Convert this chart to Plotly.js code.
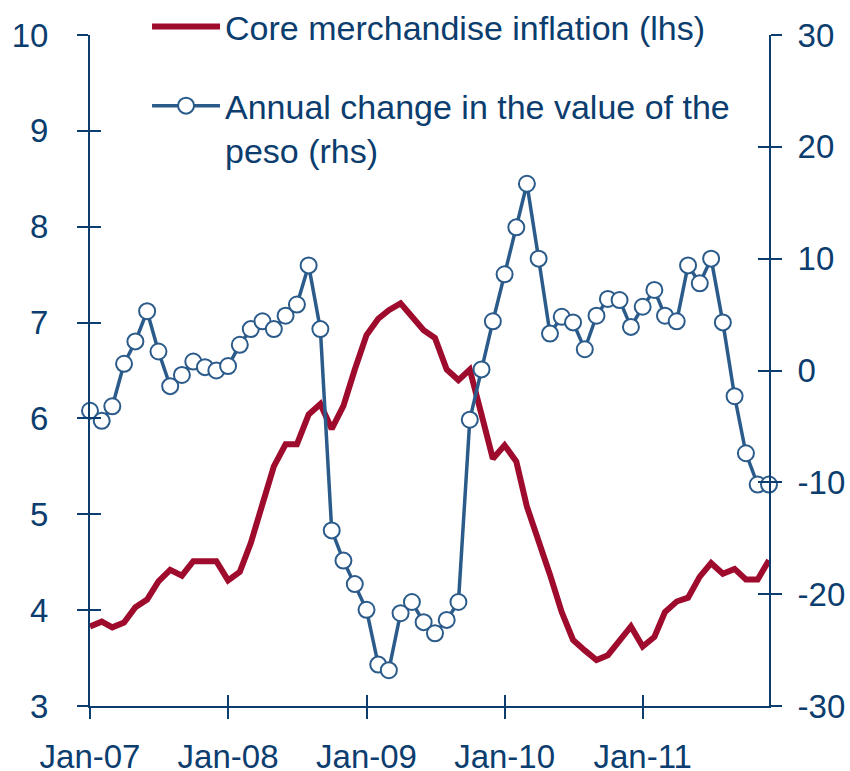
<!DOCTYPE html>
<html>
<head>
<meta charset="utf-8">
<script src="https://cdn.plot.ly/plotly-3.0.1.min.js"></script>
<style>
  html, body { margin: 0; padding: 0; background: #ffffff; }
  #plot { width: 850px; height: 771px; }
</style>
</head>
<body>
<div id="plot"></div>
<script>
// Periodo: ene-2007 a dic-2011, datos mensuales
const years = [2007, 2008, 2009, 2010, 2011];
const months = ['01', '02', '03', '04', '05', '06', '07', '08', '09', '10', '11', '12'];

// Inflacion subyacente de mercancias (eje izquierdo, %)
const coreInflation = [
    3.83, 3.88, 3.82, 3.87, 4.03, 4.11, 4.30, 4.42, 4.36, 4.51, 4.51, 4.51,
    4.31, 4.40, 4.70, 5.10, 5.50, 5.73, 5.73, 6.04, 6.15, 5.89, 6.13, 6.51,
    6.87, 7.04, 7.13, 7.20, 7.06, 6.92, 6.84, 6.51, 6.40, 6.51, 6.04, 5.58,
    5.72, 5.55, 5.08, 4.73, 4.37, 3.98, 3.69, 3.58, 3.48, 3.53, 3.69, 3.83,
    3.62, 3.72, 3.98, 4.09, 4.13, 4.35, 4.49, 4.38, 4.43, 4.32, 4.32, 4.52
];

// Variacion anual del valor del peso (eje derecho, %)
const pesoChange = [
    -3.6, -4.5, -3.2, 0.6, 2.6, 5.3, 1.7, -1.4, -0.4, 0.8, 0.3, 0.0,
    0.4, 2.3, 3.7, 4.4, 3.7, 4.9, 5.9, 9.4, 3.7, -14.3, -17.0, -19.1,
    -21.4, -26.3, -26.8, -21.7, -20.7, -22.5, -23.5, -22.3, -20.7, -4.4, 0.1, 4.4,
    8.6, 12.8, 16.7, 10.0, 3.3, 4.8, 4.3, 1.9, 4.9, 6.4, 6.3, 3.9,
    5.7, 7.2, 4.9, 4.4, 9.4, 7.8, 10.0, 4.3, -2.3, -7.4, -10.2, -10.2
];

// Etiquetas del eje derecho (con guion normal, como en el original)
const rhsTicks = [-30, -20, -10, 0, 10, 20, 30];
const rhsLabels = ['-30', '-20', '-10', '0', '10', '20', '30'];

const dates = [];
years.forEach(y => months.forEach(m => dates.push(`${y}-${m}-01`)));

const NAVY = '#0b3d6e';
const RED = '#9e0b2c';
const BLUE = '#2b5b8a';
const FONT = 'Liberation Sans, Arial, sans-serif';

const xRange = ['2007-01-01', '2011-12-01'];

const traces = [
    {
        type: 'scatter', mode: 'lines',
        name: 'Core merchandise inflation (lhs)',
        x: dates, y: coreInflation,
        line: { color: RED, width: 6 },
        legendgroup: 'a',
        hoverinfo: 'skip'
    },
    {
        type: 'scatter', mode: 'lines+markers',
        name: 'Annual change in the value of the<br>peso (rhs)',
        x: dates, y: pesoChange, yaxis: 'y2',
        line: { color: BLUE, width: 3.5 },
        marker: { size: 16, color: '#ffffff', line: { color: BLUE, width: 2 } },
        cliponaxis: false,
        legendgroup: 'b',
        hoverinfo: 'skip'
    },
    // copias invisibles: solo sirven para que se dibujen las marcas interiores
    {
        type: 'scatter', mode: 'none', x: dates, y: coreInflation,
        xaxis: 'x2', yaxis: 'y3', showlegend: false, hoverinfo: 'skip'
    },
    {
        type: 'scatter', mode: 'none', x: dates, y: pesoChange,
        xaxis: 'x2', yaxis: 'y4', showlegend: false, hoverinfo: 'skip'
    }
];

const baseAxis = {
    showgrid: false, zeroline: false,
    linecolor: NAVY, linewidth: 2,
    tickcolor: NAVY, tickwidth: 2, ticklen: 11,
    tickfont: { family: FONT, size: 33, color: NAVY }
};

const layout = {
    width: 850, height: 771,
    margin: { l: 90, r: 81, t: 35, b: 65, autoexpand: false },
    paper_bgcolor: '#ffffff', plot_bgcolor: '#ffffff',
    font: { family: FONT, color: NAVY },
    showlegend: true,
    legend: {
        x: 0.084, y: 1.0554, xanchor: 'left', yanchor: 'top',
        bgcolor: 'rgba(0,0,0,0)',
        font: { family: FONT, size: 34, color: NAVY },
        itemwidth: 68, tracegroupgap: 32, valign: 'top'
    },
    xaxis: Object.assign({}, baseAxis, {
        type: 'date', range: xRange,
        tick0: '2007-01-01', dtick: 'M12', tickformat: '%b-%y',
        ticks: 'outside', ticklabelstandoff: 9, showline: true
    }),
    xaxis2: Object.assign({}, baseAxis, {
        type: 'date', range: xRange, overlaying: 'x', anchor: 'y',
        tick0: '2007-01-01', dtick: 'M12',
        ticks: 'inside', showticklabels: false, showline: false
    }),
    yaxis: Object.assign({}, baseAxis, {
        range: [3, 10], dtick: 1,
        ticks: 'outside', ticklabelstandoff: 22, showline: true
    }),
    yaxis2: Object.assign({}, baseAxis, {
        range: [-30, 30], tickmode: 'array', tickvals: rhsTicks, ticktext: rhsLabels,
        overlaying: 'y', side: 'right',
        ticks: 'outside', ticklabelstandoff: 9, showline: true
    }),
    yaxis3: Object.assign({}, baseAxis, {
        range: [3, 10], dtick: 1, overlaying: 'y', side: 'left', anchor: 'x2',
        ticks: 'inside', showticklabels: false, showline: false
    }),
    yaxis4: Object.assign({}, baseAxis, {
        range: [-30, 30], tickmode: 'array', tickvals: rhsTicks,
        overlaying: 'y', side: 'right', anchor: 'x2',
        ticks: 'inside', showticklabels: false, showline: false
    })
};

Plotly.newPlot('plot', traces, layout, { displayModeBar: false, staticPlot: true });
</script>
</body>
</html>
